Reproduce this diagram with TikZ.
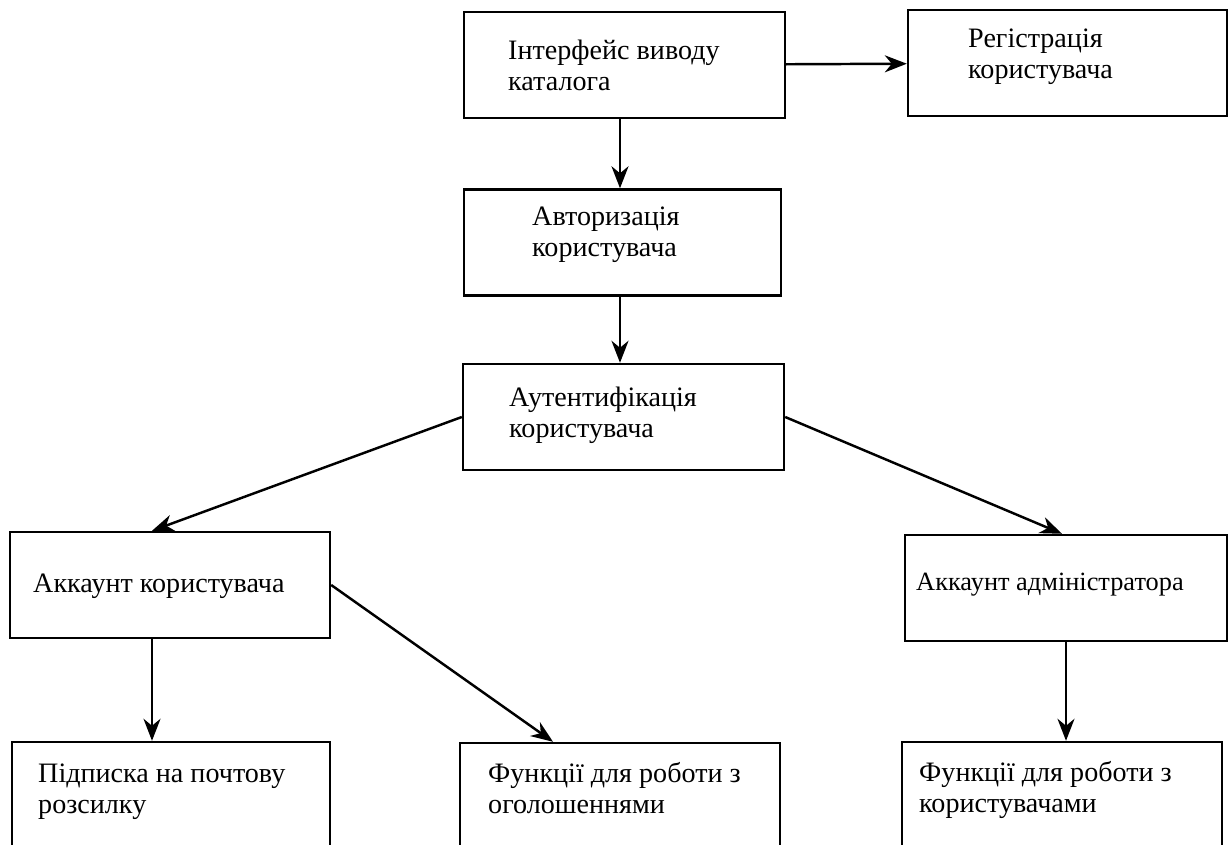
\documentclass[tikz,border=0pt]{standalone}
\usepackage{fontspec}
\setmainfont{Liberation Serif}
\usetikzlibrary{shapes,arrows.meta,positioning,calc}

\begin{document}
\begin{tikzpicture}[x=0.02cm,y=-0.02cm,line width=1.4pt,
	box/.style={draw, rectangle, minimum width=6.42cm, minimum height=2.12cm, inner sep=0pt},
	txt/.style={anchor=base west, align=left, inner sep=0pt, font=\fontsize{16pt}{17.5pt}\selectfont},
	>={Stealth[length=0.44cm,width=0.34cm,inset=0.14cm]}]
	\useasboundingbox (0,0) rectangle (1231,845);
	\clip (0,0) rectangle (1231,845);

	\node[box] (1) at (624.5,65) {};
	\node[box,minimum width=6.38cm] (2) at (1067.5,63) {};
	\node[box,minimum width=6.34cm] (3) at (622.5,242.5) {};
	\node[box] (4) at (623.5,417) {};
	\node[box,minimum width=6.40cm] (5) at (170,585) {};
	\node[box,minimum width=6.44cm] (6) at (1066,588) {};
	\node[box,minimum width=6.36cm] (7) at (171,795) {};
	\node[box,minimum width=6.40cm] (8) at (620,796) {};
	\node[box,minimum width=6.40cm] (9) at (1062,795) {};

	% base anchor sits on the last line
	\node[txt] (t1) at (507,90) {Інтерфейс виводу\\каталога};
	\node[txt] (t2) at (967,78) {Регістрація\\користувача};
	\node[txt] (t3) at (531,256) {Авторизація\\користувача};
	\node[txt] (t4) at (508,437) {Аутентифікація\\користувача};
	\node[txt] (t5) at (32,592) {Аккаунт користувача};
	\node[txt,font=\fontsize{15pt}{17.5pt}\selectfont] (t6) at (915,590) {Аккаунт адміністратора};
	\node[txt] (t7) at (37,813) {Підписка на почтову\\розсилку};
	\node[txt] (t8) at (487,813) {Функції для роботи з\\оголошеннями};
	\node[txt] (t9) at (918,812) {Функції для роботи з\\користувачами};

	\path [->] (1) edge (2);
	\path [->] ([xshift=-0.09cm]1.south) edge ([xshift=-0.09cm]1.south |- 3.north);
	\path [->] ([xshift=-0.05cm]3.south) edge ([xshift=-0.05cm]3.south |- 4.north);
	\path [->] (4.west) edge ([xshift=-0.36cm]5.north);
	\path [->] (4.east) edge ([xshift=-0.08cm]6.north);
	\path [->] ([xshift=-0.36cm]5.south) edge ([xshift=-0.36cm]5.south |- 7.north);
	\path [->] (5.east) edge ([xshift=-1.34cm]8.north);
	\path [->] (6.south) edge (6.south |- 9.north);
\end{tikzpicture}
\end{document}
